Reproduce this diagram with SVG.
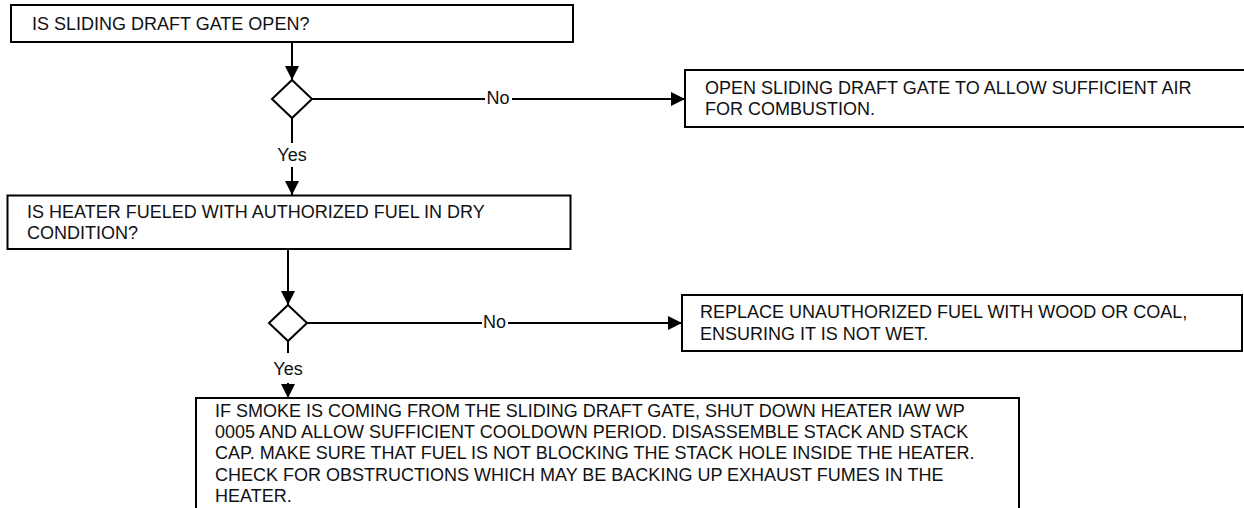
<svg xmlns="http://www.w3.org/2000/svg" width="1244" height="508" viewBox="0 0 1244 508">
<defs>
<marker id="arr" markerUnits="userSpaceOnUse" markerWidth="15" markerHeight="15" refX="14" refY="7" orient="auto">
<path d="M0,0 L14,7 L0,14 z" fill="#000"/>
</marker>
</defs>
<style>
.box{fill:#fff;stroke:#000;stroke-width:2}
.dia{fill:#fff;stroke:#000;stroke-width:2}
.ln{fill:none;stroke:#000;stroke-width:2}
text{font-family:"Liberation Sans",Arial,sans-serif;font-size:18px;fill:#111}
.lbl{text-anchor:middle}
</style>
<rect width="1244" height="508" fill="#fff"/>
<g id="connectors">
<line class="ln" x1="292" y1="42" x2="292" y2="80" marker-end="url(#arr)"/>
<line class="ln" x1="312" y1="99" x2="485" y2="99"/>
<line class="ln" x1="512" y1="99" x2="685" y2="99" marker-end="url(#arr)"/>
<text class="lbl" x="498" y="104">No</text>
<line class="ln" x1="292" y1="118" x2="292" y2="143"/>
<text class="lbl" x="292" y="161">Yes</text>
<line class="ln" x1="292" y1="167" x2="292" y2="195" marker-end="url(#arr)"/>
<line class="ln" x1="288" y1="249" x2="288" y2="305" marker-end="url(#arr)"/>
<line class="ln" x1="307" y1="323" x2="482" y2="323"/>
<line class="ln" x1="508" y1="323" x2="682" y2="323" marker-end="url(#arr)"/>
<text class="lbl" x="494.5" y="328">No</text>
<line class="ln" x1="288" y1="341" x2="288" y2="353"/>
<text class="lbl" x="288" y="375">Yes</text>
<line class="ln" x1="288" y1="383" x2="288" y2="398" marker-end="url(#arr)"/>
</g>
<g id="q1">
<rect class="box" x="11" y="5" width="562" height="37"/>
<text x="32" y="30">IS SLIDING DRAFT GATE OPEN?</text>
</g>
<g id="d1">
<polygon class="dia" points="292,80 312,99 292,118 272,99"/>
</g>
<g id="a1">
<rect class="box" x="685" y="70" width="570" height="57"/>
<text x="705" y="94">OPEN SLIDING DRAFT GATE TO ALLOW SUFFICIENT AIR</text>
<text x="705" y="115">FOR COMBUSTION.</text>
</g>
<g id="q2">
<rect class="box" x="7.5" y="195.5" width="563" height="53.5"/>
<text x="27" y="217.5">IS HEATER FUELED WITH AUTHORIZED FUEL IN DRY</text>
<text x="27" y="238.5">CONDITION?</text>
</g>
<g id="d2">
<polygon class="dia" points="288,305 307,323 288,341 269,323"/>
</g>
<g id="a2">
<rect class="box" x="682" y="295" width="560" height="56"/>
<text x="700" y="318">REPLACE UNAUTHORIZED FUEL WITH WOOD OR COAL,</text>
<text x="700" y="339.5">ENSURING IT IS NOT WET.</text>
</g>
<g id="a3">
<rect class="box" x="196" y="398" width="823" height="130"/>
<text x="215" y="417">IF SMOKE IS COMING FROM THE SLIDING DRAFT GATE, SHUT DOWN HEATER IAW WP</text>
<text x="215" y="438.2">0005 AND ALLOW SUFFICIENT COOLDOWN PERIOD. DISASSEMBLE STACK AND STACK</text>
<text x="215" y="459.4">CAP. MAKE SURE THAT FUEL IS NOT BLOCKING THE STACK HOLE INSIDE THE HEATER.</text>
<text x="215" y="480.6">CHECK FOR OBSTRUCTIONS WHICH MAY BE BACKING UP EXHAUST FUMES IN THE</text>
<text x="215" y="501.8">HEATER.</text>
</g>
</svg>
